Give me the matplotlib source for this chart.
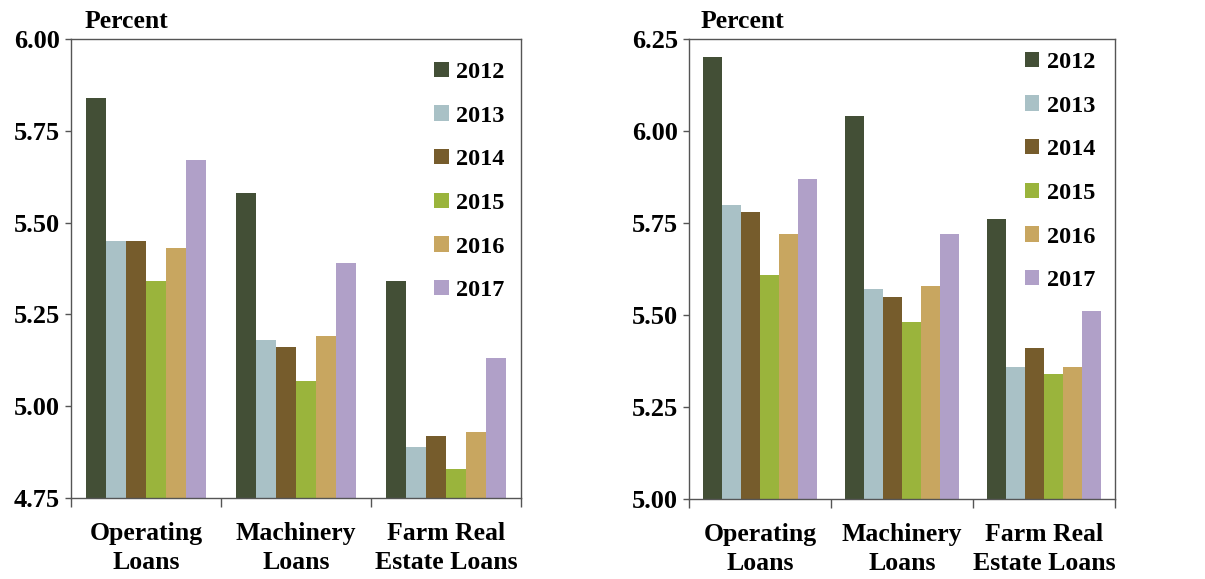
import numpy as np
import matplotlib
matplotlib.use("Agg")
import matplotlib.pyplot as plt
from matplotlib.ticker import FixedLocator

plt.rcParams["font.family"] = ["Liberation Serif", "DejaVu Serif"]
plt.rcParams["font.weight"] = "bold"

categories = ["Operating\nLoans", "Machinery\nLoans", "Farm Real\nEstate Loans"]
years = ["2012", "2013", "2014", "2015", "2016", "2017"]
colors = ["#434f36", "#a9c1c6", "#765c2c", "#9ab43c", "#c8a660", "#b0a0c8"]

# left panel values (percent), one list per year: operating, machinery, farm real estate
left_2012 = [5.84, 5.58, 5.34]
left_2013 = [5.45, 5.18, 4.89]
left_2014 = [5.45, 5.16, 4.92]
left_2015 = [5.34, 5.07, 4.83]
left_2016 = [5.43, 5.19, 4.93]
left_2017 = [5.67, 5.39, 5.13]

# right panel values (percent)
right_2012 = [6.20, 6.04, 5.76]
right_2013 = [5.80, 5.57, 5.36]
right_2014 = [5.78, 5.55, 5.41]
right_2015 = [5.61, 5.48, 5.34]
right_2016 = [5.72, 5.58, 5.36]
right_2017 = [5.87, 5.72, 5.51]

left_ticks = [4.75, 5.00, 5.25, 5.50, 5.75, 6.00]
right_ticks = [5.00, 5.25, 5.50, 5.75, 6.00, 6.25]

left_series = [left_2012, left_2013, left_2014, left_2015, left_2016, left_2017]
right_series = [right_2012, right_2013, right_2014, right_2015, right_2016, right_2017]


def panel(ax, series, ticks, leg_anchor):
    lo, hi = ticks[0], ticks[-1]
    n = len(series)
    w = 0.8 / n
    x = np.arange(len(categories))
    for i, vals in enumerate(series):
        v = np.array(vals)
        ax.bar(x - 0.4 + w * (i + 0.5), v - lo, bottom=lo, width=w,
               color=colors[i], label=years[i], linewidth=0)
    ax.set_ylim(lo, hi)
    ax.set_xlim(-0.5, len(categories) - 0.5)
    ax.set_yticks(ticks)
    ax.set_yticklabels(["%.2f" % t for t in ticks], fontsize=19, fontweight="bold")
    ax.set_xticks(x)
    ax.set_xticklabels(categories, fontsize=18.5, fontweight="bold", linespacing=1.35)
    ax.xaxis.set_minor_locator(FixedLocator(np.arange(len(categories) + 1) - 0.5))
    ax.tick_params(axis="x", which="major", length=0, pad=17)
    ax.tick_params(axis="x", which="minor", length=6.5, width=1, color="#555555")
    ax.tick_params(axis="y", length=4.5, width=1, color="#555555", pad=3.5)
    for s in ax.spines.values():
        s.set_color("#555555")
        s.set_linewidth(1)
    ax.legend(loc="upper right", bbox_to_anchor=leg_anchor, frameon=False,
              fontsize=17.5, handlelength=0.6, handleheight=0.6, handletextpad=0.3,
              labelspacing=0.92, borderaxespad=0)


fig = plt.figure(figsize=(12.05, 5.79), dpi=100)
ax1 = fig.add_axes([0.0589, 0.1399, 0.3735, 0.7927])
ax2 = fig.add_axes([0.5718, 0.1380, 0.3535, 0.7946])
panel(ax1, left_series, left_ticks, (1 - 7 / 450, 1 - 13 / 459))
panel(ax2, right_series, right_ticks, (1 - 10 / 426, 1 - 3 / 460))
fig.text(85 / 1205, 1 - 21 / 579, "Percent", fontsize=18.5, fontweight="bold", va="center")
fig.text(701 / 1205, 1 - 21 / 579, "Percent", fontsize=18.5, fontweight="bold", va="center")
fig.savefig("out.png", dpi=100)
